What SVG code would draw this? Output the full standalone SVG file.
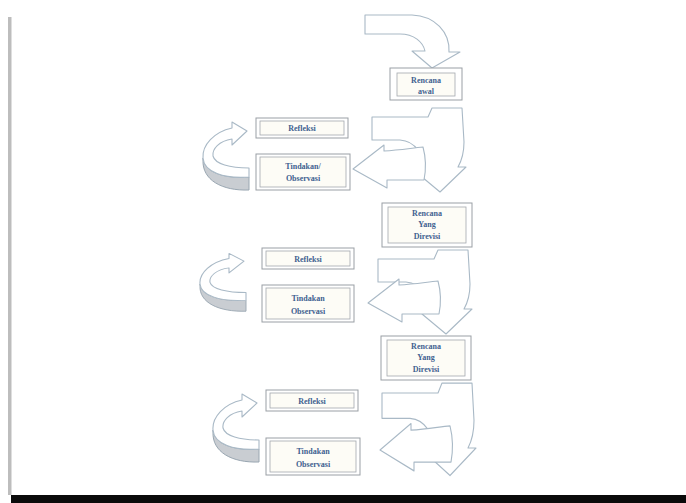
<svg xmlns="http://www.w3.org/2000/svg" width="686" height="503" viewBox="0 0 686 503">
<style>
.bo{fill:#ffffff;stroke:#9a9fa5;stroke-width:1}
.bi{fill:#fdfcf6;stroke:#a3a8ae;stroke-width:0.8}
.ar{fill:#ffffff;stroke:#a9b9c6;stroke-width:1.1;stroke-linejoin:round}
.sd{fill:#c9cdd2;stroke:#9aa7b2;stroke-width:1}
.t{font-family:"Liberation Serif","DejaVu Serif",serif;font-size:8px;font-weight:bold;fill:#3f6190;text-anchor:middle}
</style>
<defs>
<path id="curve" d="M372,117 L428,117 L432,108 L462,108 L464,142 C464,152 462,160 458,167 L466,167 L440,192 L416,172 L424,170 C424,156 416,141 400,140 L372,140 Z"/>
<path id="left" d="M353,169 L384,145 L384,151 C400,150 412,148 423,147 C426,158 426,170 424,180 L387,180 L387,188 Z"/>
<g id="circ">
<path class="sd" d="M203,158 C204,172 224,179 249,177 L249,190 C222,191 202,180 203,160 Z"/>
<path class="ar" d="M249,177 C224,179 204,172 203,158 C202,145 214,132 232,128 L232,122 L247,131 L232,145 L232,139 C219,141 212,149 213,156 C215,164 230,168 249,168 Z"/>
</g>
</defs>
<rect x="8" y="17" width="3.5" height="478" fill="#bdbdbd"/>
<rect x="11" y="495" width="675" height="8" fill="#0a0a0a"/>
<g id="connectors">
<path class="ar" d="M365,15 L412,15 C435,16 450,32 449,52 L460,52 L432,68 L412,51 L425,51 C423,42 414,34 400,34 L365,34 Z"/>
<use href="#curve" class="ar"/>
<use href="#left" class="ar"/>
<use href="#circ"/>
<use href="#curve" class="ar" transform="translate(6,142)"/>
<use href="#left" class="ar" transform="translate(15,134)"/>
<use href="#circ" transform="translate(-3,250) scale(1,0.85) translate(0,-118)"/>
<use href="#curve" class="ar" transform="translate(382,393) scale(1,1.1) translate(-372,-117)"/>
<use href="#left" class="ar" transform="translate(380,450) scale(1,1.1) translate(-353,-169)"/>
<use href="#circ" transform="translate(10,272)"/>
</g>
<g id="rencana-awal">
<rect class="bo" x="390" y="68" width="72" height="32"/>
<rect class="bi" x="397" y="73" width="58" height="23"/>
<text class="t" x="426" y="83">Rencana</text>
<text class="t" x="426" y="94">awal</text>
</g>
<g id="refleksi-1">
<rect class="bo" x="256" y="118" width="92" height="20"/>
<rect class="bi" x="260" y="121" width="84" height="14"/>
<text class="t" x="302" y="131">Refleksi</text>
</g>
<g id="tindakan-1">
<rect class="bo" x="256" y="154" width="94" height="36"/>
<rect class="bi" x="260" y="157" width="86" height="30"/>
<text class="t" x="303" y="169">Tindakan/</text>
<text class="t" x="303" y="181">Observasi</text>
</g>
<g id="rencana-revisi-1">
<rect class="bo" x="382" y="203" width="90" height="44"/>
<rect class="bi" x="388" y="207" width="78" height="36"/>
<text class="t" x="427" y="216">Rencana</text>
<text class="t" x="427" y="227">Yang</text>
<text class="t" x="427" y="239">Direvisi</text>
</g>
<g id="refleksi-2">
<rect class="bo" x="262" y="248" width="92" height="21"/>
<rect class="bi" x="266" y="251" width="84" height="15"/>
<text class="t" x="308" y="262">Refleksi</text>
</g>
<g id="tindakan-2">
<rect class="bo" x="262" y="285" width="92" height="37"/>
<rect class="bi" x="266" y="288" width="84" height="31"/>
<text class="t" x="308" y="301">Tindakan</text>
<text class="t" x="308" y="314">Observasi</text>
</g>
<g id="rencana-revisi-2">
<rect class="bo" x="381" y="336" width="90" height="44"/>
<rect class="bi" x="387" y="340" width="78" height="36"/>
<text class="t" x="426" y="349">Rencana</text>
<text class="t" x="426" y="360">Yang</text>
<text class="t" x="426" y="372">Direvisi</text>
</g>
<g id="refleksi-3">
<rect class="bo" x="266" y="390" width="92" height="21"/>
<rect class="bi" x="270" y="393" width="84" height="15"/>
<text class="t" x="312" y="404">Refleksi</text>
</g>
<g id="tindakan-3">
<rect class="bo" x="266" y="438" width="94" height="37"/>
<rect class="bi" x="270" y="441" width="86" height="31"/>
<text class="t" x="313" y="454">Tindakan</text>
<text class="t" x="313" y="467">Observasi</text>
</g>
</svg>
